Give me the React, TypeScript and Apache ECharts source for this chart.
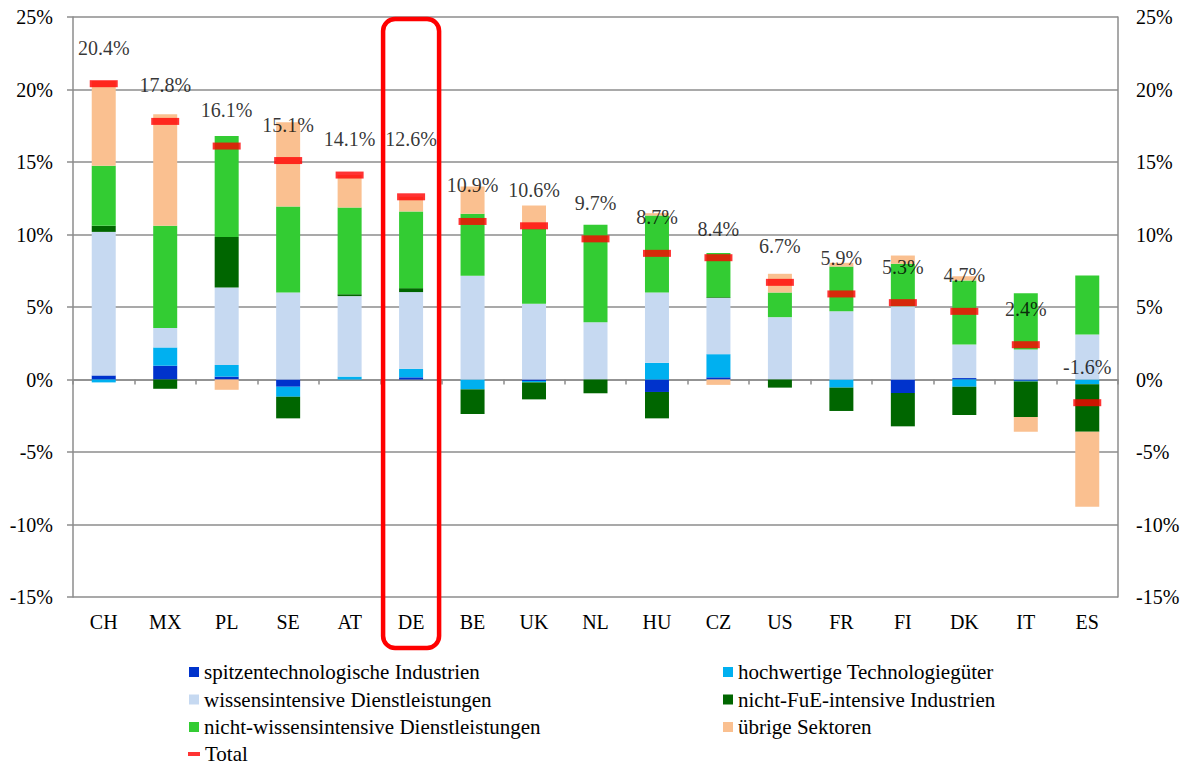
import React, { useEffect, useRef } from "react";
import * as echarts from "echarts";

const categories = ["CH", "MX", "PL", "SE", "AT", "DE", "BE", "UK", "NL", "HU", "CZ", "US", "FR", "FI", "DK", "IT", "ES"];

const spitzen = [0.28, 0.95, 0.2, -0.5, 0, 0.15, 0, -0.1, 0, -0.86, 0.15, 0, 0, -0.93, 0.1, -0.08, 0];
const hochwertig = [-0.2, 1.26, 0.8, -0.69, 0.2, 0.59, -0.68, -0.1, 0, 1.15, 1.6, 0, -0.56, 0, -0.5, -0.06, -0.33];
const wissens = [9.9, 1.34, 5.34, 6.0, 5.55, 5.29, 7.15, 5.22, 3.95, 4.85, 3.87, 4.3, 4.71, 5.06, 2.31, 2.07, 3.1];
const nichtFuE = [0.42, -0.64, 3.49, -1.49, 0.13, 0.27, -1.7, -1.17, -0.95, -1.82, 0.05, -0.56, -1.61, -2.3, -1.95, -2.45, -3.27];
const nichtWissens = [4.14, 7.05, 6.97, 5.93, 5.98, 5.29, 4.28, 5.17, 6.72, 5.31, 3.06, 1.7, 3.08, 2.92, 4.42, 3.88, 4.07];
const uebrige = [5.84, 7.7, -0.71, 5.82, 2.24, 1.01, 1.88, 1.61, 0, 0.16, -0.37, 1.29, 0.26, 0.57, 0.29, -1.01, -5.17];
const total = [20.4, 17.8, 16.1, 15.1, 14.1, 12.6, 10.9, 10.6, 9.7, 8.7, 8.4, 6.7, 5.9, 5.3, 4.7, 2.4, -1.6];
// label offsets (px above marker) where the reference moved a label
const labelOffsets: Record<string, number> = { DE: -58, CZ: -29 };

const yTicks = { min: -15, max: 25, interval: 5 };
const highlighted = "DE";

const FONT = "Liberation Serif";

const seriesDefs = [
  { name: "spitzentechnologische Industrien", data: spitzen, color: "#0033CC" },
  { name: "hochwertige Technologiegüter", data: hochwertig, color: "#00B0F0" },
  { name: "wissensintensive Dienstleistungen", data: wissens, color: "#C6D9F1" },
  { name: "nicht-FuE-intensive Industrien", data: nichtFuE, color: "#006600" },
  { name: "nicht-wissensintensive Dienstleistungen", data: nichtWissens, color: "#33CC33" },
  { name: "übrige Sektoren", data: uebrige, color: "#FAC090" },
];

// legend grid: [series name, column, row]
const legendLayout: [string, number, number][] = [
  [seriesDefs[0].name, 0, 0],
  [seriesDefs[1].name, 1, 0],
  [seriesDefs[2].name, 0, 1],
  [seriesDefs[3].name, 1, 1],
  [seriesDefs[4].name, 0, 2],
  [seriesDefs[5].name, 1, 2],
  ["Total", 0, 3],
];

export default function App() {
  const ref = useRef<HTMLDivElement>(null);
  useEffect(() => {
    if (!ref.current) return;
    const chart = echarts.init(ref.current, undefined, { renderer: "svg" });
    const gridColor = "#8c8c8c";
    const colLeft = [189, 723];
    const rowCenter = [671.5, 699, 726.5, 753.5];
    const legends = legendLayout.map(([name, col, row]) => {
      const isTotal = name === "Total";
      return {
        left: isTotal ? colLeft[col] - 1 : colLeft[col],
        top: rowCenter[row] - 10,
        orient: "horizontal",
        itemWidth: isTotal ? 12 : 10,
        itemHeight: 10,
        itemTextGap: isTotal ? 4 : 5,
        padding: 0,
        textStyle: { fontFamily: FONT, fontSize: 21, color: "#000", lineHeight: 20 },
        data: [{ name, icon: isTotal ? "path://M0,0 H12 V4 H0 Z" : "rect" }],
      };
    });
    const option: any = {
      animation: false,
      backgroundColor: "#ffffff",
      textStyle: { fontFamily: FONT },
      grid: { left: 73, right: 71, top: 17, bottom: 168, containLabel: false },
      legend: legends,
      xAxis: [
        {
          type: "category",
          data: categories,
          axisLine: { onZero: true, onZeroAxisIndex: 0, lineStyle: { color: gridColor, width: 1.5 } },
          axisTick: { show: true, length: 5, lineStyle: { color: gridColor, width: 1.5 } },
          axisLabel: { show: false },
        },
        {
          type: "category",
          data: categories,
          position: "bottom",
          axisLine: { show: false, onZero: false },
          axisTick: { show: false },
          axisLabel: { show: true, margin: 15, fontFamily: FONT, fontSize: 20, color: "#000" },
        },
      ],
      yAxis: [
        {
          type: "value",
          position: "left",
          ...yTicks,
          axisLine: { show: true, lineStyle: { color: gridColor, width: 1.5 } },
          axisTick: { show: true, length: 6, lineStyle: { color: gridColor, width: 1.5 } },
          axisLabel: { formatter: "{value}%", margin: 20, fontFamily: FONT, fontSize: 20, color: "#000" },
          splitLine: { show: true, lineStyle: { color: gridColor, width: 1.5 } },
        },
        {
          type: "value",
          position: "right",
          ...yTicks,
          axisLine: { show: true, lineStyle: { color: gridColor, width: 1.5 } },
          axisTick: { show: false },
          axisLabel: { formatter: "{value}%", margin: 18, fontFamily: FONT, fontSize: 20, color: "#000" },
          splitLine: { show: false },
        },
      ],
      series: [
        ...seriesDefs.map((s) => ({
          name: s.name,
          type: "bar",
          stack: "total",
          stackStrategy: "samesign",
          xAxisIndex: 0,
          yAxisIndex: 0,
          barWidth: 24,
          data: s.data,
          itemStyle: { color: s.color },
        })),
        {
          name: "Total",
          type: "scatter",
          xAxisIndex: 0,
          yAxisIndex: 0,
          symbol: "rect",
          symbolSize: [28, 7],
          z: 5,
          itemStyle: { color: "#FF0000" },
          data: total.map((v, i) => ({
            value: v,
            label: { offset: [0, labelOffsets[categories[i]] ?? -36] },
          })),
          label: {
            show: true,
            position: "inside",
            fontFamily: FONT,
            fontSize: 20,
            color: "#000",
            formatter: (p: any) => p.value.toFixed(1) + "%",
          },
        },
      ],
    };
    chart.setOption(option);
    const cx = chart.convertToPixel({ xAxisIndex: 0 }, highlighted) as number;
    const yTop = chart.convertToPixel({ yAxisIndex: 0 }, yTicks.max) as number;
    chart.setOption({
      graphic: [
        {
          type: "rect",
          z: 100,
          shape: { x: cx - 28, y: yTop + 2, width: 56, height: 629, r: 12 },
          style: { fill: "none", stroke: "#FF0000", lineWidth: 4.5 },
        },
      ],
    });
    return () => chart.dispose();
  }, []);
  return <div ref={ref} style={{ position: "fixed", left: 0, top: 0, width: 1189, height: 765 }} />;
}
